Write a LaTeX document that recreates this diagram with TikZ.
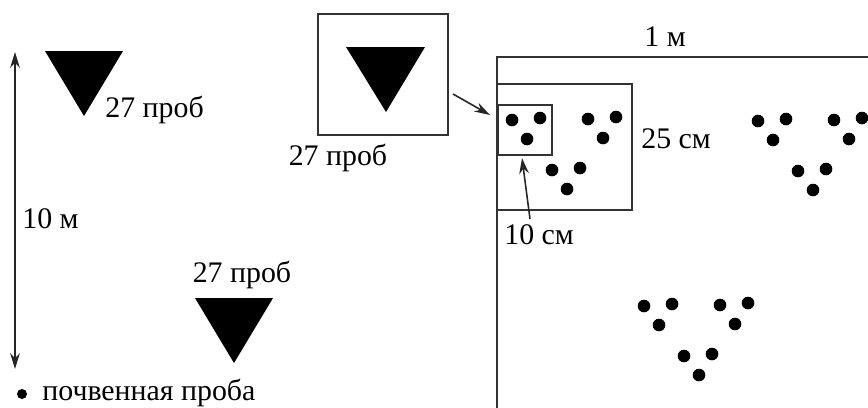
\documentclass[tikz,border=0pt]{standalone}
\usepackage{fontspec}
\setmainfont{Liberation Serif}
\usetikzlibrary{arrows.meta}
\tikzset{
  lbl/.style={inner sep=0pt, font=\fontsize{17}{19}\selectfont},
  frm/.style={draw=black!80, line width=0.9pt},
  tri/.style={fill=black},
  arr/.style={draw=black!85, line width=0.9pt, -{Stealth[length=9pt,width=5.5pt]}},
  dot/.style={fill=black},
  triplet/.pic={
    \fill[dot] (0,0) circle[radius=6.3];
    \fill[dot] (28,-2) circle[radius=6.3];
    \fill[dot] (15,19) circle[radius=6.3];
  },
  cluster/.pic={
    \pic at (0,0) {triplet};
    \pic at (76,-1) {triplet};
    \pic at (40,50) {triplet};
  }
}
\begin{document}
\begin{tikzpicture}[x=0.02cm,y=-0.02cm]
\useasboundingbox (0,0) rectangle (868,407);
% left part
\fill[tri] (45,51) -- (123,51) -- (84,116) -- cycle;
\node[lbl, anchor=west] (l1) at (105,110) {27 проб};
\fill[tri] (195,298) -- (273,298) -- (234,363) -- cycle;
\node[lbl] (l2) at (242,275) {27 проб};
\coordinate (vt) at (15,52);
\coordinate (vb) at (15,369);
\draw[draw=black!85, line width=0.9pt, {Stealth[length=9pt,width=5.5pt]}-{Stealth[length=9pt,width=5.5pt]}] (vt) -- (vb);
\node[lbl, anchor=west] (tenm) at (22,219) {10 м};
\fill[dot] (22,394) circle[radius=5];
\node[lbl, anchor=west] (leg) at (42,393) {почвенная проба};
% middle box
\node[frm, minimum width=130*0.02cm, minimum height=121*0.02cm, inner sep=0pt] (box) at (383,74.5) {};
\fill[tri] (346,47) -- (425,47) -- (386,112) -- cycle;
\node[lbl] (l3) at (338,158) {27 проб};
% big frame
\coordinate (fb) at (497,410);
\coordinate (ft) at (497,57);
\coordinate (fr) at (870,57);
\draw[frm] (fb) -- (ft) -- (fr);
\node[lbl] (onem) at (665,37) {1 м};
\draw[frm] (497,84) rectangle (632,210);
\node[frm, minimum width=54*0.02cm, minimum height=50*0.02cm, inner sep=0pt, anchor=north west] (small) at (497,104) {};
\node[lbl, anchor=west] (tf) at (641,139) {25 см};
\node[lbl, anchor=west] (tc) at (504,235) {10 см};
\coordinate (aout) at (453,94);
\coordinate (ain) at (490,115);
\draw[arr] (aout) -- (ain);
\coordinate (bout) at (530,219);
\coordinate (bin) at (522,158);
\draw[arr] (bout) -- (bin);
% dots
\pic at (512,120) {cluster};
\pic at (758,121) {cluster};
\pic at (644,306) {cluster};
\end{tikzpicture}
\end{document}
